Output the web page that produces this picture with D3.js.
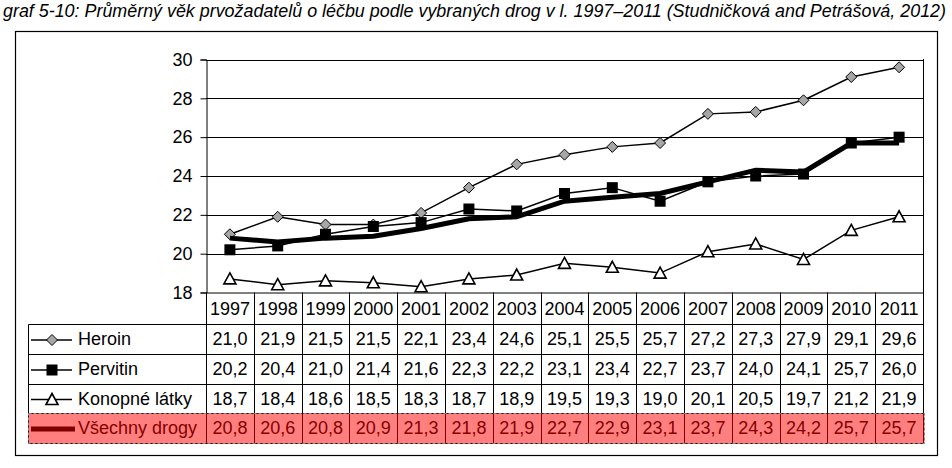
<!DOCTYPE html>
<html><head><meta charset="utf-8">
<script src="https://cdn.jsdelivr.net/npm/d3@7"></script>
<style>body{margin:0;background:#fff;} svg{display:block;}</style>
</head><body>
<script>
const years = ["1997","1998","1999","2000","2001","2002","2003","2004","2005","2006","2007","2008","2009","2010","2011"];
const heroin   = [21.0,21.9,21.5,21.5,22.1,23.4,24.6,25.1,25.5,25.7,27.2,27.3,27.9,29.1,29.6];
const pervitin = [20.2,20.4,21.0,21.4,21.6,22.3,22.2,23.1,23.4,22.7,23.7,24.0,24.1,25.7,26.0];
const konopne  = [18.7,18.4,18.6,18.5,18.3,18.7,18.9,19.5,19.3,19.0,20.1,20.5,19.7,21.2,21.9];
const vsechny  = [20.8,20.6,20.8,20.9,21.3,21.8,21.9,22.7,22.9,23.1,23.7,24.3,24.2,25.7,25.7];
const yTicks = [18,20,22,24,26,28,30];
const seriesNames = ["Heroin","Pervitin","Konopné látky","Všechny drogy"];
const title = "graf 5-10: Průměrný věk prvožadatelů o léčbu podle vybraných drog v l. 1997–2011 (Studničková and Petrášová, 2012)";

(function(){
const W = 952, H = 468;
const svg = d3.select("body").append("svg").attr("width", W).attr("height", H);
const font = "'Liberation Sans', Arial, sans-serif";
const fs = 18;

// Title
svg.append("text").attr("x", 3).attr("y", 17)
  .attr("font-family", "'Liberation Sans Narrow','Arial Narrow','Liberation Sans',sans-serif")
  .attr("font-style", "italic").attr("font-size", 18)
  .attr("textLength", 943).attr("lengthAdjust", "spacingAndGlyphs")
  .text(title);

// Outer frame
svg.append("rect").attr("x", 15.5).attr("y", 31.5).attr("width", 922).attr("height", 424)
  .attr("fill", "none").attr("stroke", "#000").attr("stroke-width", 1.2);

const pL = 206, pR = 923, pT = 59, pB = 292.5;
const x = d3.scaleBand().domain(years).range([pL, pR]);
const y = d3.scaleLinear().domain([18, 30]).range([pB, pT + 0.5]);
const cx = d => x(d) + x.bandwidth() / 2;

// gridlines
svg.append("g").selectAll("line").data(yTicks.slice(1)).join("line")
  .attr("x1", pL).attr("x2", pR)
  .attr("y1", d => Math.round(y(d)) + 0.5).attr("y2", d => Math.round(y(d)) + 0.5)
  .attr("stroke", "#000").attr("stroke-width", 1);

// y axis
const yAxis = d3.axisLeft(y).tickValues(yTicks).tickSize(6).tickPadding(8).tickFormat(d3.format("d"));
const gy = svg.append("g").attr("transform", `translate(${pL + 0.5},0)`).call(yAxis);
gy.select(".domain").attr("stroke", "#000");
gy.selectAll(".tick line").attr("stroke", "#000");
gy.selectAll(".tick text").attr("font-family", font).attr("font-size", fs).attr("fill", "#000");

// plot right border
svg.append("line").attr("x1", pR + 0.5).attr("x2", pR + 0.5).attr("y1", pT).attr("y2", 443.5)
  .attr("stroke", "#000");

// Table
const rowTops = [293, 324, 354, 384, 413, 443];
const tbl = svg.append("g");
tbl.append("line").attr("x1", pL).attr("x2", pR).attr("y1", pB + 0.5).attr("y2", pB + 0.5).attr("stroke", "#000");
tbl.selectAll("line.h").data(rowTops.slice(1)).join("line").attr("class", "h")
  .attr("x1", 28.5).attr("x2", pR + 0.5).attr("y1", d => d + 0.5).attr("y2", d => d + 0.5).attr("stroke", "#000");
tbl.selectAll("line.v").data(years).join("line").attr("class", "v")
  .attr("x1", d => Math.round(x(d)) + 0.5).attr("x2", d => Math.round(x(d)) + 0.5)
  .attr("y1", pB).attr("y2", 443.5).attr("stroke", "#000");
tbl.append("line").attr("x1", 28.5).attr("x2", 28.5).attr("y1", rowTops[1] + 0.5).attr("y2", 443.5).attr("stroke", "#000");

tbl.selectAll("text.yr").data(years).join("text").attr("class", "yr")
  .attr("x", d => cx(d)).attr("y", rowTops[0] + 22).attr("text-anchor", "middle")
  .attr("font-family", font).attr("font-size", fs).text(d => d);

const allSeries = [heroin, pervitin, konopne, vsechny];
const fmt = v => v.toFixed(1).replace(".", ",");
allSeries.forEach((s, i) => {
  tbl.append("g").selectAll("text").data(s).join("text")
    .attr("x", (d, j) => cx(years[j])).attr("y", rowTops[i + 1] + 21).attr("text-anchor", "middle")
    .attr("font-family", font).attr("font-size", fs).text(d => fmt(d));
  tbl.append("text").attr("x", 78).attr("y", rowTops[i + 1] + 21)
    .attr("font-family", font).attr("font-size", fs).text(seriesNames[i]);
});

function diamond(g, px, py) {
  g.append("path").attr("d", `M${px},${py - 5.5}L${px + 5.5},${py}L${px},${py + 5.5}L${px - 5.5},${py}Z`)
    .attr("fill", "#a6a6a6").attr("stroke", "#000").attr("stroke-width", 1);
}
function square(g, px, py) {
  g.append("rect").attr("x", px - 5.5).attr("y", py - 5.5).attr("width", 11).attr("height", 11).attr("fill", "#000");
}
function triangle(g, px, py) {
  g.append("path").attr("d", `M${px},${py - 6}L${px + 6},${py + 5}L${px - 6},${py + 5}Z`)
    .attr("fill", "#fff").attr("stroke", "#000").attr("stroke-width", 1.6);
}

const line = d3.line().x((d, j) => cx(years[j])).y(d => y(d));
const plot = svg.append("g");
plot.append("path").datum(konopne).attr("d", line).attr("fill", "none").attr("stroke", "#000").attr("stroke-width", 1.5);
plot.append("path").datum(heroin).attr("d", line).attr("fill", "none").attr("stroke", "#000").attr("stroke-width", 1.5);
plot.append("path").datum(pervitin).attr("d", line).attr("fill", "none").attr("stroke", "#000").attr("stroke-width", 1.5);
konopne.forEach((v, j) => triangle(plot, cx(years[j]), y(v)));
heroin.forEach((v, j) => diamond(plot, cx(years[j]), y(v)));
pervitin.forEach((v, j) => square(plot, cx(years[j]), y(v)));
plot.append("path").datum(vsechny).attr("d", line).attr("fill", "none").attr("stroke", "#000").attr("stroke-width", 5);

const keyY = i => (rowTops[i + 1] + rowTops[i + 2]) / 2 + 1;
const markers = [diamond, square, triangle];
for (let i = 0; i < 3; i++) {
  tbl.append("line").attr("x1", 31).attr("x2", 72).attr("y1", keyY(i)).attr("y2", keyY(i)).attr("stroke", "#000").attr("stroke-width", 1.5);
  markers[i](tbl, 52, keyY(i));
}
tbl.append("line").attr("x1", 31).attr("x2", 75).attr("y1", keyY(3)).attr("y2", keyY(3)).attr("stroke", "#000").attr("stroke-width", 5);

svg.append("rect").attr("x", 28.5).attr("y", rowTops[4] + 0.5).attr("width", pR - 28 + 1).attr("height", rowTops[5] - rowTops[4])
  .attr("fill", "rgba(255,0,0,0.5)").attr("stroke", "#888").attr("stroke-dasharray", "3,2").attr("stroke-width", 1);
})();
</script>
</body></html>
